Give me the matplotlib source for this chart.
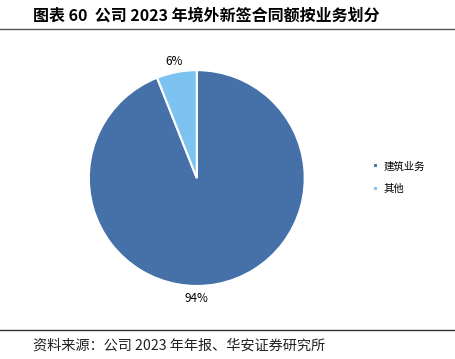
import matplotlib.pyplot as plt

plt.rcParams['font.family'] = ['Noto Sans CJK SC', 'DejaVu Sans']

labels = ['建筑业务', '其他']
shares = [94, 6]
colors = ['#4571a8', '#7cc3f1']

fig = plt.figure(figsize=(4.55, 3.59), dpi=100)

# title and source text
fig.text(0.072, 0.958, '图表 60  公司 2023 年境外新签合同额按业务划分',
         fontsize=11.5, fontweight='bold', va='center', ha='left')
fig.add_artist(plt.Line2D([0.0, 1.0], [0.918, 0.918], color='#555555', lw=1.0))
fig.add_artist(plt.Line2D([0.0, 1.0], [0.08, 0.08], color='#333333', lw=1.0))
fig.text(0.072, 0.038, '资料来源：公司 2023 年年报、华安证券研究所',
         fontsize=10.2, va='center', ha='left', color='#222222')

ax = fig.add_axes([0.136, 0.128, 0.593, 0.752])
wedges, texts = ax.pie(shares, colors=colors, startangle=90, counterclock=False,
                       labels=[f'{s}%' for s in shares], labeldistance=1.1,
                       wedgeprops=dict(edgecolor='white', linewidth=1.5),
                       textprops=dict(fontsize=8.5))
ax.set_aspect('equal')
for t in texts:
    t.set_ha('center')
# big slice label sits straight under the pie like in the excel chart
texts[0].set_position((0, -1.12))

leg = fig.legend(wedges, labels, loc='center left', bbox_to_anchor=(0.8, 0.505),
                 frameon=False, fontsize=7.5, handlelength=0.4, handleheight=0.4,
                 handletextpad=0.6, labelspacing=1.2)

fig.savefig('out.png', dpi=100)
